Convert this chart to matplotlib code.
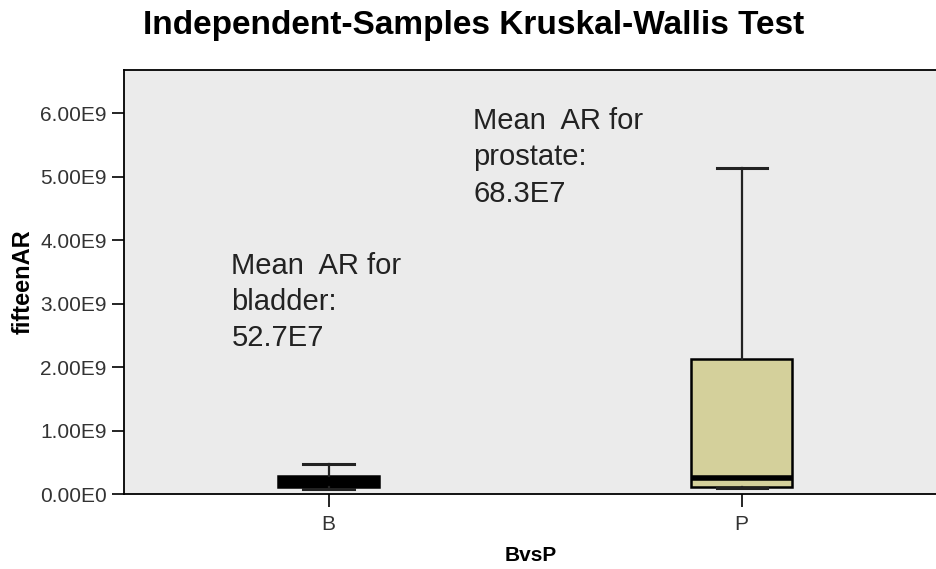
import matplotlib.pyplot as plt

plt.rcParams['font.family'] = ['Liberation Sans', 'DejaVu Sans']

# box statistics
groups = ['B', 'P']
whislo = [0.08e9, 0.09e9]
q1 = [0.11e9, 0.11e9]
med = [0.20e9, 0.25e9]
q3 = [0.28e9, 2.13e9]
whishi = [0.47e9, 5.13e9]
notes = ['Mean  AR for\nbladder:\n52.7E7', 'Mean  AR for\nprostate:\n68.3E7']
note_x = [0.765, 1.35]
note_y = [3.82e9, 6.1e9]
yticks = [0, 1e9, 2e9, 3e9, 4e9, 5e9, 6e9]
ytick_labels = ['0.00E0', '1.00E9', '2.00E9', '3.00E9', '4.00E9', '5.00E9', '6.00E9']

fig = plt.figure(figsize=(9.36, 5.69), dpi=100)
ax = fig.add_axes([0.1325, 0.1318, 0.87, 0.7452])
ax.set_facecolor('#EBEBEB')

stats = []
for i, g in enumerate(groups):
    stats.append({'label': g, 'whislo': whislo[i], 'q1': q1[i], 'med': med[i],
                  'q3': q3[i], 'whishi': whishi[i], 'fliers': []})

bp = ax.bxp(stats, positions=[1, 2], widths=0.243, patch_artist=True,
            showfliers=False,
            boxprops=dict(edgecolor='black', linewidth=1.8),
            medianprops=dict(color='black', linewidth=4),
            whiskerprops=dict(color='#222222', linewidth=1.6),
            capprops=dict(color='#222222', linewidth=2.2))
bp['boxes'][0].set_facecolor('black')
bp['boxes'][1].set_facecolor('#D4D09B')

for i, t in enumerate(notes):
    ax.text(note_x[i], note_y[i], t, fontsize=21, va='top', ha='left',
            color='#222222', linespacing=1.38)

ax.set_xlim(0.505, 2.476)
ax.set_ylim(0, 6.68e9)
ax.set_yticks(yticks)
ax.set_yticklabels(ytick_labels)
ax.set_xticks([1, 2])
ax.set_xticklabels(groups)
ax.tick_params(axis='both', labelsize=15, labelcolor='#333333', length=9,
               width=1.2, direction='out')
ax.tick_params(axis='x', pad=6)
for s in ['left', 'bottom', 'top']:
    ax.spines[s].set_linewidth(1.3)
ax.spines['right'].set_visible(False)

ax.set_ylabel('fifteenAR', fontsize=17, fontweight='bold', labelpad=4)
ax.set_xlabel('BvsP', fontsize=15, fontweight='bold', labelpad=9)
fig.text(0.506, 0.956, 'Independent-Samples Kruskal-Wallis Test', fontsize=24,
         fontweight='bold', ha='center', va='center')

plt.savefig('out.png', dpi=100)
